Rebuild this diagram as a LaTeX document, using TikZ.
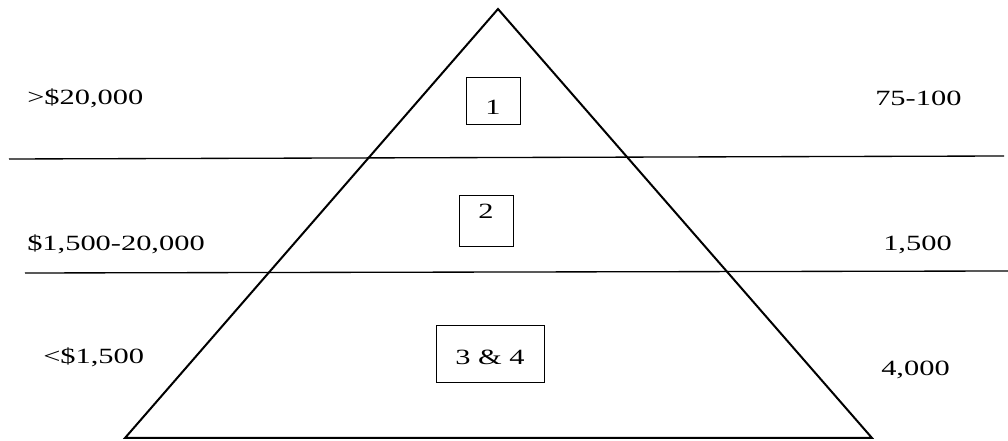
\documentclass[tikz,border=0pt]{standalone}
\usepackage{fontspec}
\setmainfont{Liberation Serif}
\usepackage{graphicx}
\usepackage{tikz}
\usetikzlibrary{positioning}

\newcommand{\wide}[1]{\scalebox{1.4}[1]{#1}}

\begin{document}
\begin{tikzpicture}[
        x=0.75pt, y=-0.75pt,
        tier/.style = {line width=1pt},
        pyramid/.style = {line width=1.5pt, line join=miter},
        label/.style = {anchor=base west, inner sep=0pt, font=\fontsize{16.3}{19}\selectfont},
        rank/.style = {draw, line width=0.6pt, inner sep=0pt, anchor=base, align=center, font=\fontsize{16.3}{19}\selectfont}
    ]
    \useasboundingbox (0,0) rectangle (1008,441);

    % pyramid outline
    \coordinate (top) at (498,9);
    \coordinate (baseL) at (125,438);
    \coordinate (baseR) at (872,438);
    \draw[pyramid] (top) -- (baseR) -- (baseL) -- cycle;

    % tier dividers
    \coordinate (cutAL) at (9,159);
    \coordinate (cutAR) at (1004,156);
    \coordinate (cutBL) at (25,273);
    \coordinate (cutBR) at (1008,271);
    \draw[tier] (cutAL) -- (cutAR);
    \draw[tier] (cutBL) -- (cutBR);

    % rank boxes
    \node[rank, minimum width=40.5pt, text height=28.5pt, text depth=6.75pt] (rankA) at (493,115) {\wide{1}};
    \node[rank, minimum width=40.5pt, text height=18pt, text depth=20.25pt] (rankB) at (486,219) {\wide{2}};
    \node[rank, minimum width=81pt, text height=30pt, text depth=12.75pt] (rankC) at (490,365) {\wide{3 \& 4}};

    % amounts (left)
    \node[label] (amtA) at (27,105) {\wide{>\$20,000}};
    \node[label] (amtB) at (27,251) {\wide{\$1,500-20,000}};
    \node[label] (amtC) at (43,364) {\wide{<\$1,500}};

    % counts (right)
    \node[label] (numA) at (875,106) {\wide{75-100}};
    \node[label] (numB) at (883,251) {\wide{1,500}};
    \node[label] (numC) at (881,376) {\wide{4,000}};
\end{tikzpicture}
\end{document}
